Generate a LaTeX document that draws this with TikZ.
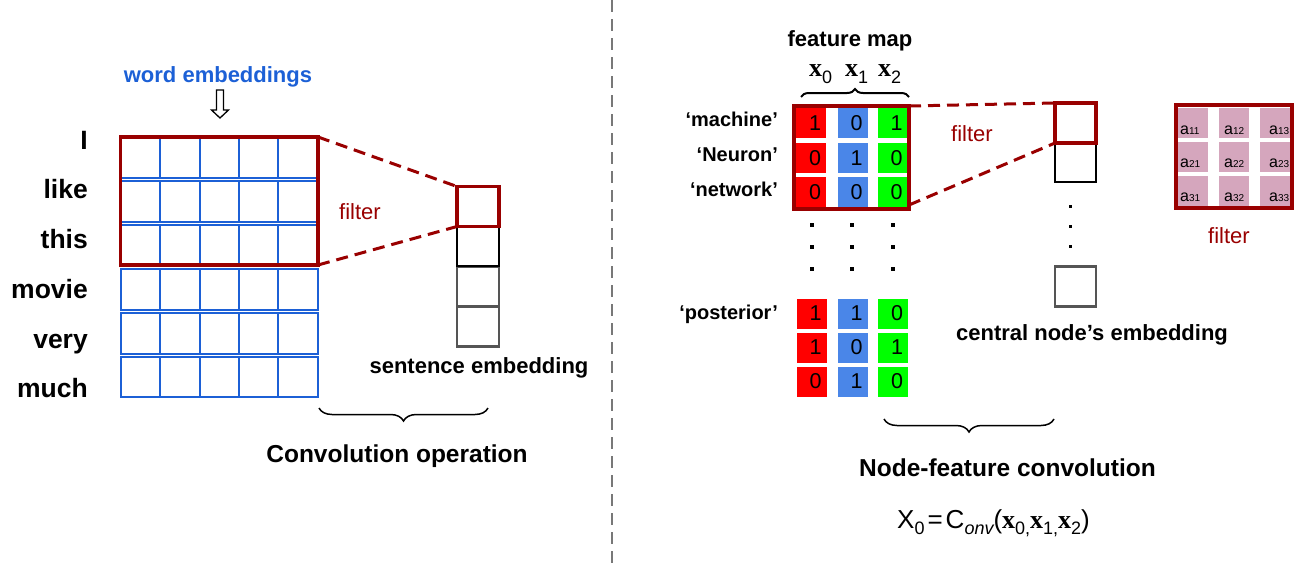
\documentclass[tikz,border=0pt]{standalone}
\usepackage{fontspec}
\setmainfont{Liberation Sans}
\newfontfamily\tnr{Liberation Serif}
\usetikzlibrary{decorations.pathreplacing}
\definecolor{gblue}{RGB}{28,96,214}
\definecolor{dred}{RGB}{153,0,0}
\definecolor{cred}{RGB}{255,0,0}
\definecolor{cblue}{RGB}{74,134,232}
\definecolor{cgreen}{RGB}{0,255,0}
\definecolor{cpink}{RGB}{213,166,189}
\definecolor{dgray}{RGB}{85,85,85}
\definecolor{divgray}{RGB}{120,120,120}
\newcommand{\fs}[1]{\fontsize{#1}{#1}\selectfont}
\newcommand{\bx}{{\tnr\bfseries x}}
\newcommand{\lowsub}[2]{\raisebox{-#1pt}{#2}}
\tikzset{
  wcell/.style={draw=gblue, line width=2pt, minimum width=39.4pt, minimum height=40.8pt, inner sep=0pt, outer sep=0pt},
  word/.style={font=\fs{26.5}\bfseries, anchor=base east, inner sep=0pt},
  filterbox/.style={draw=dred, line width=3.5pt, inner sep=0pt, outer sep=0pt},
  ebox/.style={minimum width=42pt, minimum height=40pt, inner sep=0pt, outer sep=0pt, line width=2.5pt},
  dashline/.style={dred, line width=3pt, dash pattern=on 12pt off 7pt},
  num/.style={minimum size=30pt, inner sep=0pt, font=\fs{21.5}, execute at begin node=\hspace*{8pt}},
  rc/.style={num, fill=cred},
  bc/.style={num, fill=cblue},
  gc/.style={num, fill=cgreen},
  lbl/.style={font=\fs{20}\bfseries, anchor=base east, inner sep=0pt},
  dotsq/.style={fill=black, minimum size=4.5pt, inner sep=0pt},
  smalldot/.style={fill=black, minimum size=3pt, inner sep=0pt},
  pcell/.style={fill=cpink, minimum size=30pt, inner sep=0pt},
  alabel/.style={anchor=base west, inner sep=0pt, font=\fs{16}},
  ftext/.style={text=dred, font=\fs{22}, inner sep=0pt},
  boldtext/.style={font=\fs{22}\bfseries, inner sep=0pt, anchor=base},
  bigtitle/.style={font=\fs{24.5}\bfseries, inner sep=0pt, anchor=base},
  brc/.style={decorate, decoration={brace, amplitude=13pt}, line width=1.5pt},
}
\begin{document}
\begin{tikzpicture}[x=1pt,y=-1pt]
\useasboundingbox (0,0) rectangle (1306,570);

% ---------- left part ----------
\node[font=\fs{22}\bfseries, text=gblue, anchor=base, inner sep=0pt] (we) at (218,82) {word embeddings};
\draw[line width=1.3pt, fill=white] (216.5,90) -- (223.5,90) -- (223.5,110) -- (228.5,110) -- (220,118) -- (211.5,110) -- (216.5,110) -- cycle;

\foreach \r in {1,...,6}
  \foreach \c in {1,...,5}
    \node[wcell] (w\r\c) at ({120.7+39.4*(\c-0.5)}, {136+43.8*(\r-0.5)}) {};

\node[word] (wI) at (88,149) {I};
\node[word] (wlike) at (88,198) {like};
\node[word] (wthis) at (88,248) {this};
\node[word] (wmovie) at (88,298) {movie};
\node[word] (wvery) at (88,348) {very};
\node[word] (wmuch) at (88,397) {much};

\node[filterbox, minimum width=197.3pt, minimum height=128pt] (lfilter) at (219.35,201) {};

\node[ebox, draw=dgray] (se4) at (478,326.5) {};
\node[ebox, draw=dgray] (se3) at (478,286.5) {};
\node[ebox, draw=black] (se2) at (478,246) {};
\node[ebox, draw=dred, line width=3.5pt] (se1) at (478,206.5) {};

\draw[dashline] (lfilter.north east) -- (se1.north west);
\draw[dashline] (lfilter.south east) -- (se1.south west);

\node[ftext] (lfiltxt) at (360,212) {filter};
\node[boldtext] (setxt) at (479,373) {sentence embedding};

\coordinate (lb1) at (319,408);
\coordinate (lb2) at (488,408);
\draw[brc, decoration={mirror}] (lb1) -- (lb2);
\node[bigtitle] (convop) at (397,462) {Convolution operation};

% ---------- divider ----------
\coordinate (dvt) at (612,0);
\coordinate (dvb) at (612,570);
\draw[divgray, line width=2.5pt, dash pattern=on 12pt off 7pt] (dvt) -- (dvb);

% ---------- right part ----------
\node[boldtext] (fmap) at (850,46) {feature map};
\node[anchor=base west, inner sep=0pt, font=\fs{26}] (x0) at (809,76) {\bx\lowsub{7}{\fs{18}0}};
\node[anchor=base west, inner sep=0pt, font=\fs{26}] (x1) at (845,76) {\bx\lowsub{7}{\fs{18}1}};
\node[anchor=base west, inner sep=0pt, font=\fs{26}] (x2) at (878,76) {\bx\lowsub{7}{\fs{18}2}};
\coordinate (tb1) at (801,97);
\coordinate (tb2) at (909,97);
\draw[decorate, decoration={brace, amplitude=8pt}, line width=2pt] (tb1) -- (tb2);

% top feature matrix
\node[rc] (m11) at (811,123) {1};
\node[bc] (m12) at (852.5,123) {0};
\node[gc] (m13) at (892.5,123) {1};
\node[rc] (m21) at (811,158) {0};
\node[bc] (m22) at (852.5,158) {1};
\node[gc] (m23) at (892.5,158) {0};
\node[rc] (m31) at (811,192) {0};
\node[bc] (m32) at (852.5,192) {0};
\node[gc] (m33) at (892.5,192) {0};
\node[filterbox, minimum width=115pt, minimum height=103pt] (mfilt) at (851.5,157.5) {};

\node[lbl] (lmach) at (778,126) {‘machine’};
\node[lbl] (lneur) at (778,161.5) {‘Neuron’};
\node[lbl] (lnetw) at (778,196.5) {‘network’};
\node[lbl] (lpost) at (778,319) {‘posterior’};

% vertical dots
\foreach \i/\xx in {1/812,2/852,3/893}
  \foreach \j/\yy in {1/225,2/247,3/269}
    \node[dotsq] (d\i\j) at (\xx,\yy) {};

% bottom feature matrix
\node[rc] (p11) at (811.5,313.5) {1};
\node[bc] (p12) at (852.5,313.5) {1};
\node[gc] (p13) at (893,313.5) {0};
\node[rc] (p21) at (811.5,347.5) {1};
\node[bc] (p22) at (852.5,347.5) {0};
\node[gc] (p23) at (893,347.5) {1};
\node[rc] (p31) at (811.5,381.5) {0};
\node[bc] (p32) at (852.5,381.5) {1};
\node[gc] (p33) at (893,381.5) {0};

% central node embedding
\node[ebox, minimum width=41pt, draw=dgray] (cn3) at (1075.5,286.5) {};
\node[ebox, minimum width=41pt, minimum height=39pt, draw=black] (cn2) at (1075.5,162.5) {};
\node[ebox, minimum width=41pt, draw=dred, line width=3.5pt] (cn1) at (1075.5,123) {};
\foreach \k/\yy in {1/206,2/226,3/246}
  \node[smalldot] (cd\k) at (1070,\yy) {};

\draw[dashline] (mfilt.north east) -- (cn1.north west);
\draw[dashline] ([yshift=4pt]mfilt.south east) -- (cn1.south west);
\node[ftext] (rfiltxt) at (972,134) {filter};

\node[boldtext] (cntxt) at (1092,340) {central node’s embedding};

% filter matrix
\foreach \r/\yy in {1/123,2/157,3/191}
  \foreach \c/\xx in {1/1193,2/1234,3/1274.5}
    \node[pcell] (f\r\c) at (\xx,\yy) {};
\node[filterbox, minimum width=116pt, minimum height=103pt] (rfilt) at (1234,156.5) {};
\foreach \r/\yy in {1/134,2/167,3/201}
  \foreach \c/\xx in {1/1180,2/1224,3/1269}
    \node[alabel] (a\r\c) at (\xx,\yy) {a\fs{10}\r\c};
\node[ftext, anchor=base] (ffiltxt) at (1229,243) {filter};

\coordinate (rb1) at (884,419);
\coordinate (rb2) at (1054,419);
\draw[brc, decoration={mirror}] (rb1) -- (rb2);
\node[bigtitle] (nfconv) at (1007.5,476) {Node-feature convolution};

\node[anchor=base west, inner sep=0pt, font=\fs{26}] (eq) at (897,528)
  {X\lowsub{6.5}{\fs{18}0}\kern3pt=\kern3pt C\lowsub{6.5}{\fs{18}\itshape onv}(\bx\lowsub{6.5}{\fs{18}0,}\bx\lowsub{6.5}{\fs{18}1,}\bx\lowsub{6.5}{\fs{18}2})};
\end{tikzpicture}
\end{document}
